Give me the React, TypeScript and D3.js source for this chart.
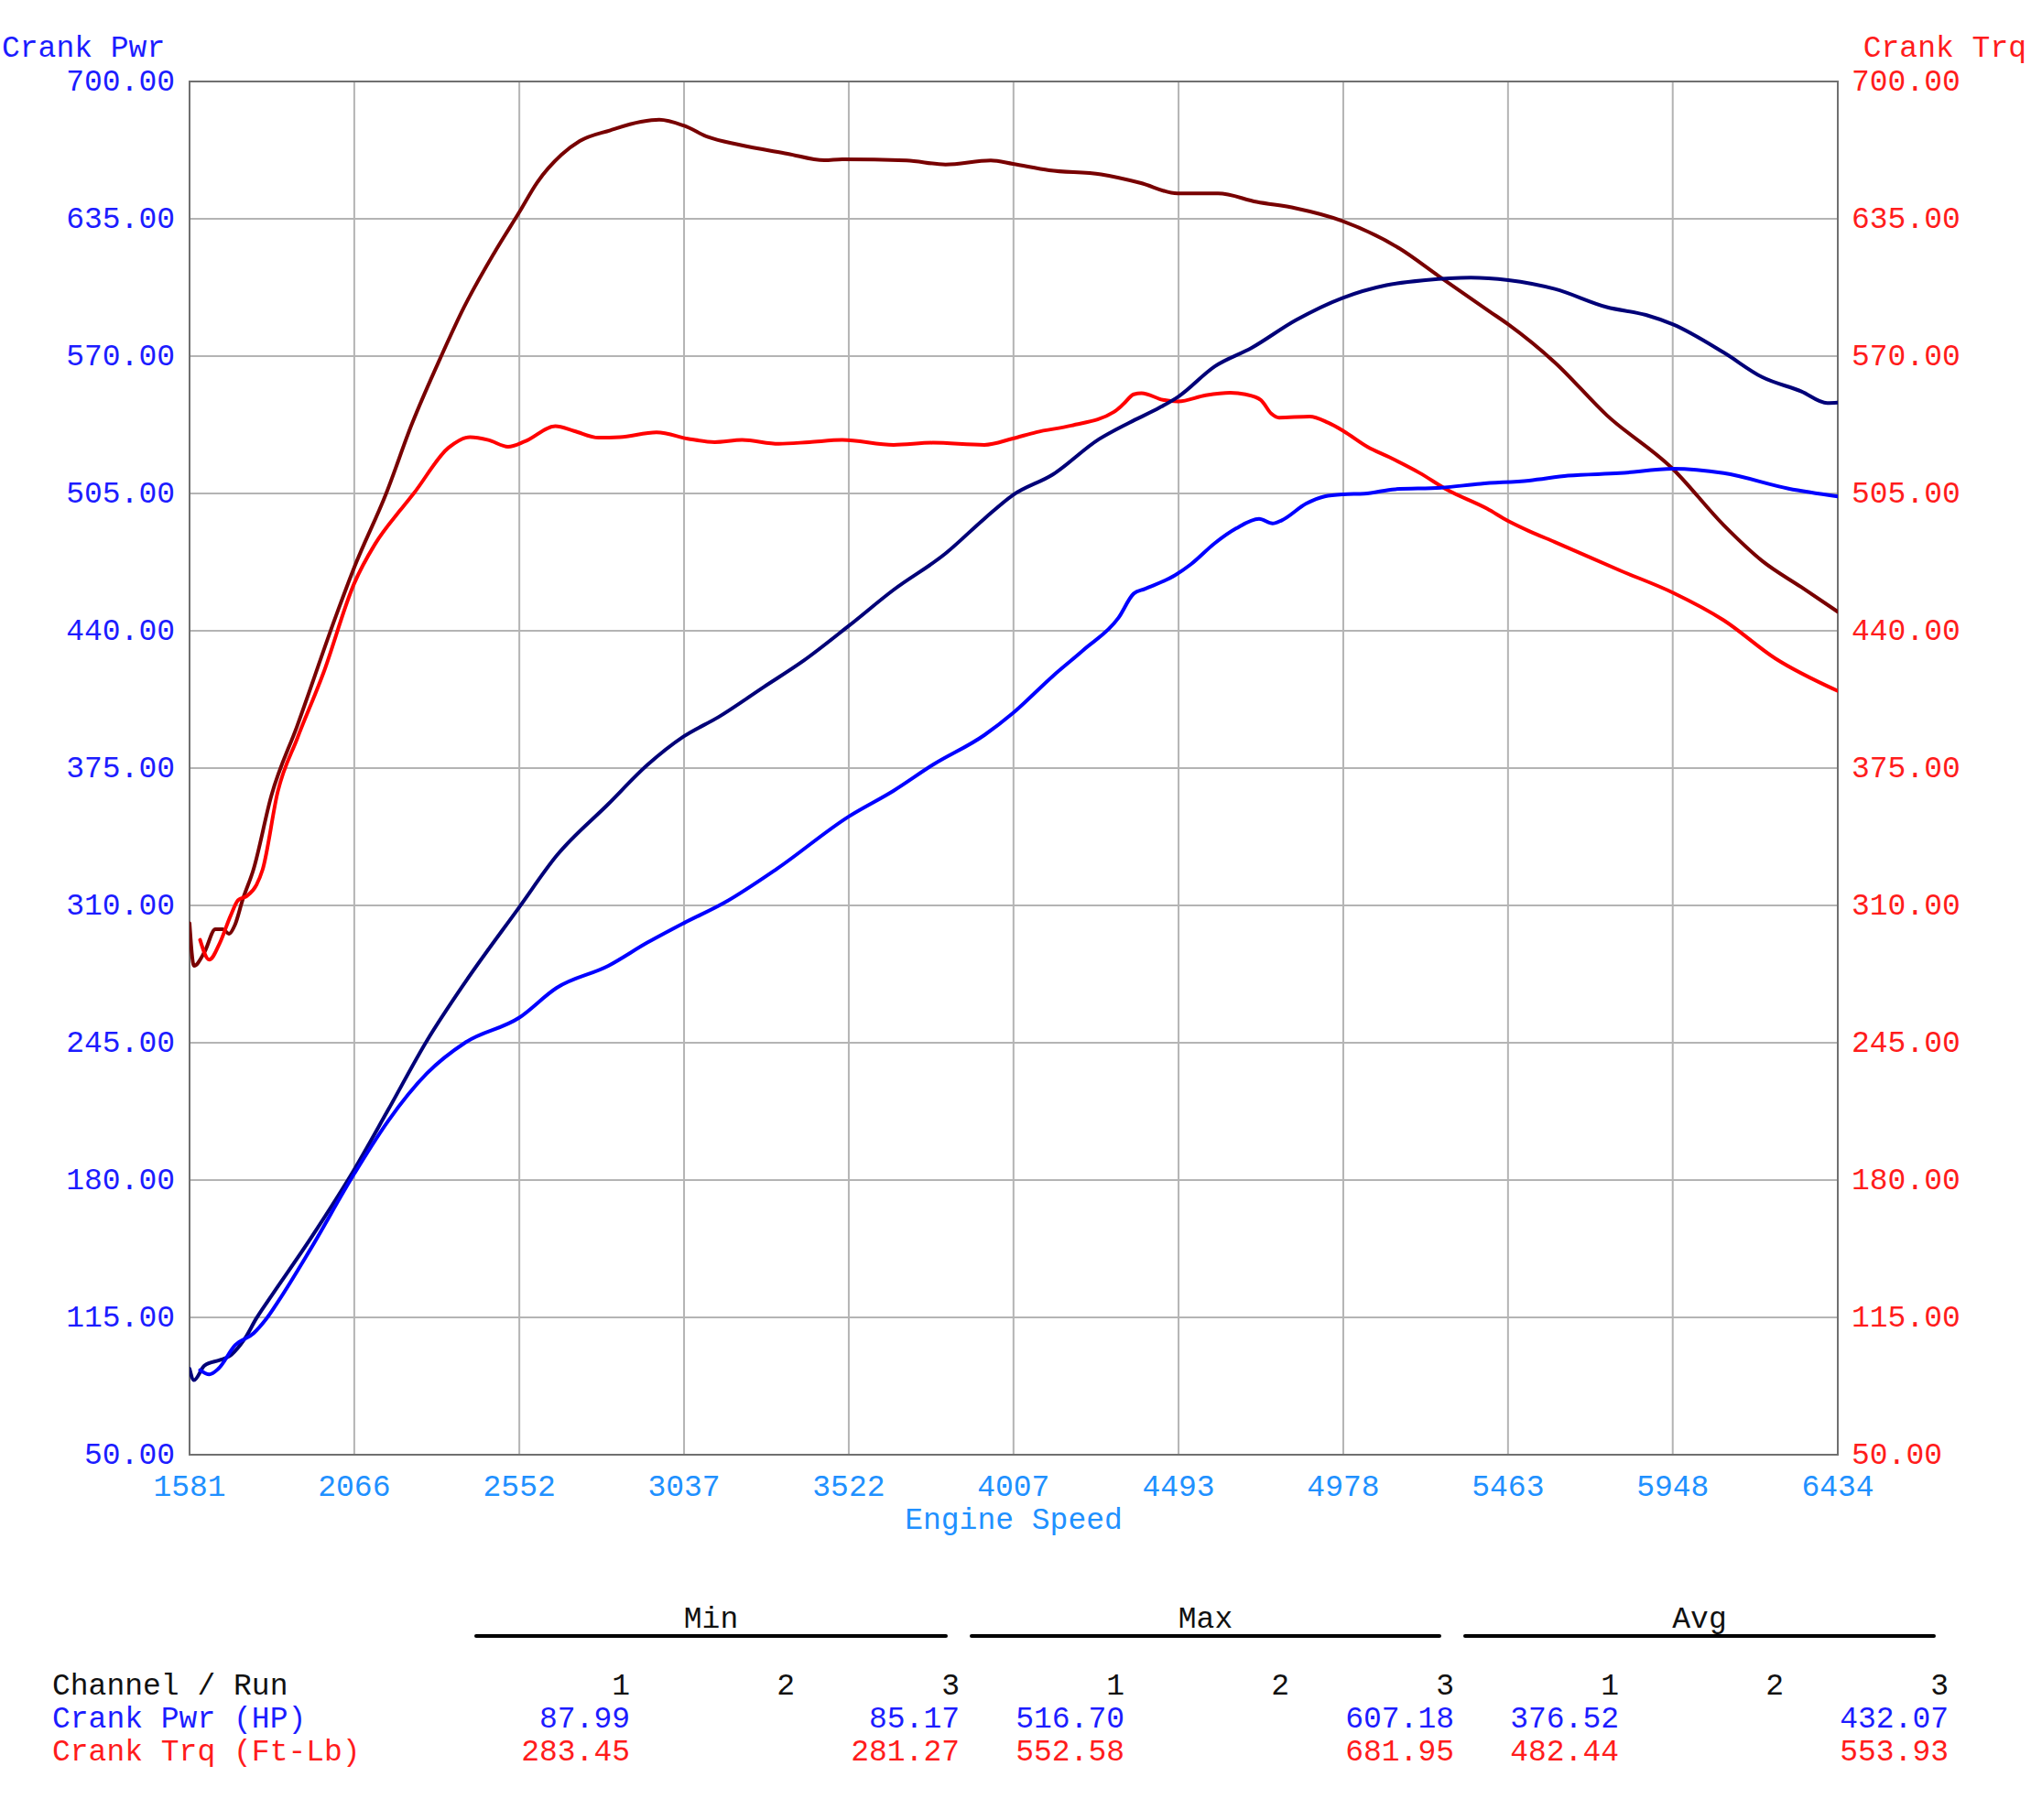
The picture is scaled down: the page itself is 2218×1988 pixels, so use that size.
import React from "react";
import * as d3 from "d3";

const W = 2218;
const H = 1988;

const xTicks = [1581, 2066, 2552, 3037, 3522, 4007, 4493, 4978, 5463, 5948, 6434];
const yTicks = [50, 115, 180, 245, 310, 375, 440, 505, 570, 635, 700];

// Run 1 Crank Pwr (blue)
const pwr1Rpm = [1612, 1639, 1666, 1715, 1769, 1805, 1845, 1936, 2066, 2165, 2280, 2394, 2551, 2662, 2814, 2929, 3036, 3158, 3311, 3521, 3654, 3769, 3921, 4005, 4123, 4213, 4316, 4361, 4393, 4483, 4528, 4600, 4662, 4730, 4770, 4797, 4869, 4923, 4978, 5040, 5130, 5265, 5382, 5525, 5640, 5792, 5949, 6098, 6289, 6434];
const pwr1Val = [90, 88.0, 90.7, 101.8, 107.4, 113.9, 123.3, 147, 183, 207.8, 230.5, 245.2, 256.8, 271, 281.4, 292.4, 301.6, 311.5, 327.4, 352, 364.3, 376.5, 390.6, 401, 418.6, 430.9, 446.1, 457.6, 459.8, 466.3, 471.3, 481.5, 488.4, 493.0, 490.8, 492.3, 500.2, 503.6, 504.6, 504.9, 507.0, 507.7, 509.6, 511.1, 513.4, 514.6, 516.7, 514.6, 507.3, 503.6];

// Run 3 Crank Pwr (navy)
const pwr3Rpm = [1581, 1594, 1625, 1670, 1697, 1742, 1778, 1814, 1936, 2066, 2165, 2280, 2394, 2551, 2662, 2814, 2929, 3036, 3139, 3272, 3387, 3521, 3654, 3807, 3921, 4005, 4123, 4258, 4348, 4438, 4492, 4600, 4708, 4838, 4975, 5105, 5220, 5353, 5464, 5601, 5754, 5869, 5949, 6098, 6212, 6327, 6403, 6434];
const pwr3Val = [90.7, 85.3, 92.2, 94.8, 96.5, 104.5, 114.6, 123.3, 152, 185, 213, 246, 274, 309, 333.6, 358, 376.5, 390, 399.2, 413.4, 425.6, 442.2, 459.4, 476.6, 493, 504.2, 514, 530.6, 538.5, 545.7, 550.8, 565.2, 573.9, 587, 597.5, 603.6, 606, 607.2, 606, 601.8, 593.2, 589.5, 585, 571.7, 560, 553.3, 547.8, 548];

// Run 1 Crank Trq (red)
const trq1Rpm = [1612, 1639, 1670, 1702, 1724, 1751, 1778, 1796, 1841, 1898, 1974, 2066, 2127, 2203, 2241, 2344, 2407, 2461, 2519, 2568, 2658, 2713, 2785, 2848, 2956, 3055, 3127, 3208, 3316, 3406, 3503, 3654, 3769, 3921, 4005, 4074, 4177, 4303, 4330, 4361, 4384, 4447, 4492, 4573, 4645, 4690, 4735, 4766, 4789, 4879, 4933, 4978, 5050, 5113, 5203, 5284, 5401, 5463, 5525, 5601, 5792, 5949, 6098, 6250, 6434];
const trq1Val = [293.7, 284.3, 292.2, 305.2, 312.5, 314.6, 319.7, 326.9, 364, 389, 419.5, 462.5, 481, 497.4, 505, 526.7, 531.7, 530.3, 527.1, 529.6, 536.8, 534.6, 531.4, 531.7, 533.9, 530.7, 529.3, 530.3, 528.5, 529.3, 530.3, 528, 529, 528, 531, 534, 537.1, 543.6, 547.2, 551.9, 552.5, 549.3, 548.6, 551.5, 552.7, 551.9, 549.3, 542.8, 540.9, 541.4, 538.5, 534.6, 527, 522.2, 514.7, 506.7, 497.8, 492, 487.2, 482, 468.6, 458, 445, 426.9, 411.5];

// Run 3 Crank Trq (dark red)
const trq3Rpm = [1581, 1594, 1625, 1657, 1679, 1697, 1715, 1737, 1769, 1822, 1898, 2012, 2066, 2160, 2236, 2322, 2389, 2479, 2551, 2605, 2676, 2730, 2820, 2910, 2964, 3036, 3108, 3198, 3342, 3450, 3503, 3692, 3807, 3940, 4005, 4112, 4265, 4380, 4490, 4609, 4723, 4838, 4975, 5143, 5258, 5410, 5464, 5601, 5754, 5949, 6098, 6212, 6327, 6434];
const trq3Val = [301.6, 281.4, 287.9, 298.7, 298.7, 296.6, 300.9, 312.5, 326.9, 362, 395, 447, 470, 505, 538, 570, 593.1, 619.1, 637.9, 652.3, 665.3, 671.8, 676.9, 680.9, 681.9, 679.1, 673.7, 670.1, 665.8, 662.7, 663.2, 662.6, 660.7, 662.6, 661, 658, 656, 652, 647, 647, 643, 640, 634, 621, 608, 591, 585, 567, 542, 516.5, 490, 473, 460.6, 449];

const tableGroups = ["Min", "Max", "Avg"];
const runLabels = ["1", "2", "3"];
const channelNames = ["Crank Pwr (HP)", "Crank Trq (Ft-Lb)"];
const pwrStats = ["87.99", "", "85.17", "516.70", "", "607.18", "376.52", "", "432.07"];
const trqStats = ["283.45", "", "281.27", "552.58", "", "681.95", "482.44", "", "553.93"];

const FONT = "'Liberation Mono', 'Courier New', monospace";
const FS = 33;

export default function App() {
  const left = 207, right = 2007, top = 89, bottom = 1589;
  const x = d3.scaleLinear().domain([1581, 6434]).range([left, right]);
  const y = d3.scaleLinear().domain([50, 700]).range([bottom, top]);

  const mk = (rpm: number[], val: number[]) => {
    const pts = rpm.map((r, i) => [r, val[i]] as [number, number]);
    return d3
      .line<[number, number]>()
      .x((d) => x(d[0]))
      .y((d) => y(d[1]))
      .curve(d3.curveMonotoneX)(pts) as string;
  };

  const series = [
    { d: mk(trq3Rpm, trq3Val), color: "#780000" },
    { d: mk(trq1Rpm, trq1Val), color: "#ff0000" },
    { d: mk(pwr3Rpm, pwr3Val), color: "#000078" },
    { d: mk(pwr1Rpm, pwr1Val), color: "#0000ff" },
  ];

  const colRight = (k: number) => 688 + 180 * k;
  const groupLines = [
    [520, 1033],
    [1061, 1572],
    [1600, 2112],
  ];

  return (
    <svg
      width={W}
      height={H}
      style={{ position: "absolute", left: 0, top: 0, background: "#fff" }}
      fontFamily={FONT}
      fontSize={FS}
    >
      <rect x={0} y={0} width={W} height={H} fill="#fff" />
      {xTicks.map((t, i) => (
        <line key={"gx" + i} x1={x(t)} x2={x(t)} y1={top} y2={bottom} stroke="#b4b4b4" strokeWidth={2} />
      ))}
      {yTicks.map((t, i) => (
        <line key={"gy" + i} x1={left} x2={right} y1={y(t)} y2={y(t)} stroke="#b4b4b4" strokeWidth={2} />
      ))}
      <rect x={left} y={top} width={right - left} height={bottom - top} fill="none" stroke="#707070" strokeWidth={2} />

      <defs>
        <clipPath id="clip">
          <rect x={left} y={top} width={right - left} height={bottom - top} />
        </clipPath>
      </defs>
      <g clipPath="url(#clip)">
        {series.map((s, i) => (
          <path key={i} d={s.d} fill="none" stroke={s.color} strokeWidth={4} strokeLinejoin="round" strokeLinecap="round" />
        ))}
      </g>

      {yTicks.map((t, i) => (
        <text key={"yl" + i} x={191} y={y(t) + 10} textAnchor="end" fill="#1c1cff">
          {t.toFixed(2)}
        </text>
      ))}
      {yTicks.map((t, i) => (
        <text key={"yr" + i} x={2022} y={y(t) + 10} textAnchor="start" fill="#ff1c1c">
          {t.toFixed(2)}
        </text>
      ))}
      {xTicks.map((t, i) => (
        <text key={"xl" + i} x={x(t)} y={1634} textAnchor="middle" fill="#2090ff">
          {t}
        </text>
      ))}
      <text x={(left + right) / 2} y={1670} textAnchor="middle" fill="#2090ff">
        Engine Speed
      </text>
      <text x={2} y={62} fill="#1c1cff">
        Crank Pwr
      </text>
      <text x={2213} y={62} textAnchor="end" fill="#ff1c1c">
        Crank Trq
      </text>

      {tableGroups.map((g, i) => (
        <g key={"tg" + i}>
          <text x={(groupLines[i][0] + groupLines[i][1]) / 2} y={1778} textAnchor="middle" fill="#111">
            {g}
          </text>
          <line
            x1={groupLines[i][0]}
            x2={groupLines[i][1]}
            y1={1787}
            y2={1787}
            stroke="#000"
            strokeWidth={4}
            strokeLinecap="round"
          />
        </g>
      ))}
      <text x={57} y={1851} fill="#111">
        Channel / Run
      </text>
      {[0, 1, 2, 3, 4, 5, 6, 7, 8].map((k) => (
        <text key={"rl" + k} x={colRight(k)} y={1851} textAnchor="end" fill="#111">
          {runLabels[k % 3]}
        </text>
      ))}
      <text x={57} y={1887} fill="#1c1cff">
        {channelNames[0]}
      </text>
      <text x={57} y={1923} fill="#ff1c1c">
        {channelNames[1]}
      </text>
      {pwrStats.map((v, k) => (
        <text key={"ps" + k} x={colRight(k)} y={1887} textAnchor="end" fill="#1c1cff">
          {v}
        </text>
      ))}
      {trqStats.map((v, k) => (
        <text key={"ts" + k} x={colRight(k)} y={1923} textAnchor="end" fill="#ff1c1c">
          {v}
        </text>
      ))}
    </svg>
  );
}
